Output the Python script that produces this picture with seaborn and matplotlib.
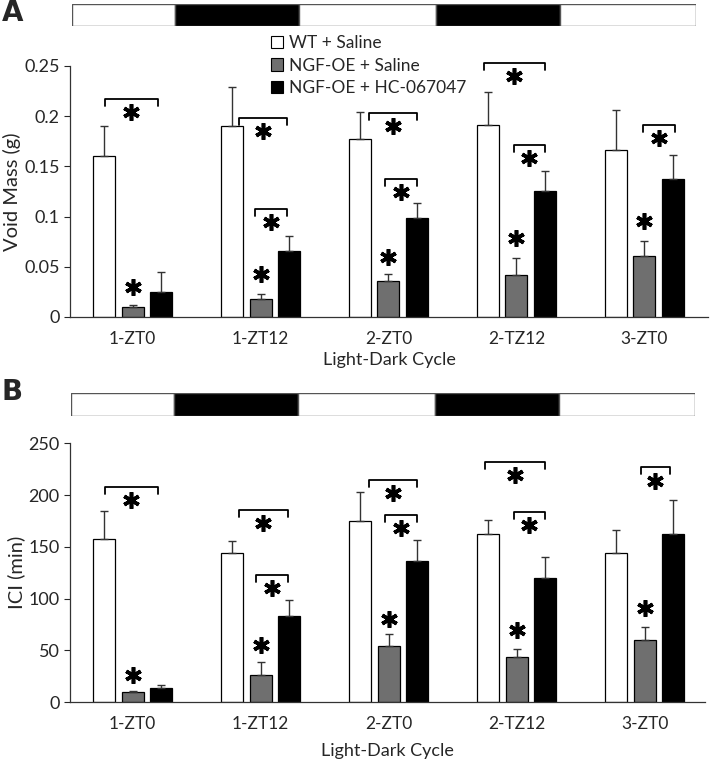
import numpy as np
import pandas as pd
import matplotlib
matplotlib.use("Agg")
import matplotlib.pyplot as plt
from matplotlib.patches import Rectangle
import seaborn as sns

sns.set_style("ticks")
plt.rcParams["font.family"] = ["Lato", "DejaVu Sans"]

# ---- data ----
cycles = ["1-ZT0", "1-ZT12", "2-ZT0", "2-TZ12", "3-ZT0"]
groups = ["WT + Saline", "NGF-OE + Saline", "NGF-OE + HC-067047"]
colors = ["#ffffff", "#6f6f6f", "#000000"]

# void mass (g): mean and upper error
mass_wt = [0.160, 0.190, 0.177, 0.191, 0.166]
mass_wt_err = [0.030, 0.039, 0.027, 0.033, 0.040]
mass_oe = [0.010, 0.018, 0.036, 0.042, 0.061]
mass_oe_err = [0.002, 0.005, 0.007, 0.017, 0.015]
mass_hc = [0.025, 0.066, 0.099, 0.125, 0.137]
mass_hc_err = [0.020, 0.015, 0.015, 0.020, 0.024]

# ICI (min)
ici_wt = [158, 144, 175, 162, 144]
ici_wt_err = [27, 12, 28, 14, 22]
ici_oe = [10, 26, 54, 44, 60]
ici_oe_err = [1, 13, 12, 7, 13]
ici_hc = [14, 83, 136, 120, 162]
ici_hc_err = [3, 16, 21, 20, 33]

# significance brackets: (cycle index, x0 offset, x1 offset, level)
mass_brackets = [(0, -0.22, 0.20, 0.217), (1, -0.17, 0.21, 0.198), (1, -0.04, 0.21, 0.1075),
                 (2, -0.15, 0.22, 0.203), (2, -0.03, 0.22, 0.137), (3, -0.25, 0.22, 0.253),
                 (3, -0.02, 0.22, 0.171), (4, -0.01, 0.24, 0.191)]
ici_brackets = [(0, -0.22, 0.20, 208), (1, -0.17, 0.21, 186), (1, -0.04, 0.21, 123),
                (2, -0.15, 0.22, 215), (2, -0.03, 0.22, 181), (3, -0.25, 0.22, 232),
                (3, -0.02, 0.22, 184), (4, -0.03, 0.20, 227)]
# star above NGF-OE + Saline bars
mass_stars = [0.030, 0.043, 0.060, 0.079, 0.096]
ici_stars = [26, 55, 80, 70, 91]

# light/dark strip fractions
strip = [(0.0, 0.165, "white"), (0.165, 0.364, "black"), (0.364, 0.584, "white"),
         (0.584, 0.782, "black"), (0.782, 1.0, "white")]

STAR = dict(marker=(6, 2, 0), ms=12, mew=2.6, color="black", ls="none", clip_on=False)


def draw_strip(fig, rect):
    sax = fig.add_axes(rect)
    for x0, x1, c in strip:
        sax.add_patch(Rectangle((x0, 0), x1 - x0, 1, facecolor=c, edgecolor="#555555", lw=1))
    sax.set_xlim(0, 1)
    sax.set_ylim(0, 1)
    sax.axis("off")


def draw_panel(ax, means, errs, brackets, stars, ylim, yticks, ylabel, legend):
    rows = []
    for g, m in zip(groups, means):
        for c, v in zip(cycles, m):
            rows.append({"cycle": c, "group": g, "value": v})
    df = pd.DataFrame(rows)
    sns.barplot(data=df, x="cycle", y="value", hue="group", palette=colors,
                width=0.67, gap=0.23, errorbar=None, edgecolor="black", linewidth=0.9,
                legend=legend, ax=ax)
    h = ylim[1] - ylim[0]
    for cont, err in zip(ax.containers, errs):
        xs = [b.get_x() + b.get_width() / 2 for b in cont]
        ys = [b.get_height() for b in cont]
        ax.errorbar(xs, ys, yerr=[np.zeros(len(err)), err], fmt="none",
                    ecolor="#333333", elinewidth=1, capsize=3, capthick=1)
    # stars over gray bars
    gray = ax.containers[1]
    ax.plot([b.get_x() + b.get_width() / 2 for b in gray], stars, **STAR)
    for i, x0, x1, lev in brackets:
        tick = h * 0.028
        ax.plot([i + x0, i + x0, i + x1, i + x1], [lev - tick, lev, lev, lev - tick],
                color="black", lw=1.3, clip_on=False)
        ax.plot([i + (x0 + x1) / 2], [lev - h * 0.052], **STAR)
    ax.set_ylim(*ylim)
    ax.set_yticks(yticks)
    ax.set_yticklabels([f"{t:g}" for t in yticks], fontsize=13)
    ax.set_xlim(-0.49, 4.5)
    ax.tick_params(axis="x", length=0, labelsize=12.5, pad=10)
    ax.tick_params(axis="y", length=4, width=0.8)
    ax.set_ylabel(ylabel, fontsize=14.5, labelpad=2)
    ax.set_xlabel("Light-Dark Cycle", fontsize=13, labelpad=4)
    sns.despine(ax=ax)
    for sp in ["left", "bottom"]:
        ax.spines[sp].set_linewidth(0.9)
        ax.spines[sp].set_color("#333333")


fig = plt.figure(figsize=(7.14, 7.66), dpi=100)

ax1 = fig.add_axes([0.098, 0.5862, 0.894, 0.3277])
draw_panel(ax1, [mass_wt, mass_oe, mass_hc], [mass_wt_err, mass_oe_err, mass_hc_err],
           mass_brackets, mass_stars, (0, 0.25), [0, 0.05, 0.1, 0.15, 0.2, 0.25],
           "Void Mass (g)", True)
leg = ax1.legend(loc="upper left", bbox_to_anchor=(271 / 714, 1 - 35 / 766),
                 bbox_transform=fig.transFigure, frameon=False, fontsize=12.5,
                 handlelength=0.7, handleheight=0.7, handletextpad=0.35,
                 labelspacing=0.38, borderpad=0, borderaxespad=0)
for hnd in leg.legend_handles:
    hnd.set_edgecolor("black")
    hnd.set_linewidth(0.8)

ax2 = fig.add_axes([0.098, 0.0832, 0.889, 0.338])
draw_panel(ax2, [ici_wt, ici_oe, ici_hc], [ici_wt_err, ici_oe_err, ici_hc_err],
           ici_brackets, ici_stars, (0, 250), [0, 50, 100, 150, 200, 250],
           "ICI (min)", False)
ax2.set_xlim(-0.49, 4.47)
ax2.xaxis.labelpad = 8

draw_strip(fig, [72 / 714, 1 - 26 / 766, 624 / 714, 22 / 766])
draw_strip(fig, [71 / 714, 1 - 416 / 766, 624 / 714, 23 / 766])

fig.text(2 / 714, 1 - 13 / 766, "A", fontsize=20, fontweight="bold", va="center", family="DejaVu Sans")
fig.text(2 / 714, 1 - 392 / 766, "B", fontsize=20, fontweight="bold", va="center", family="DejaVu Sans")

fig.savefig("out.png", dpi=100)
